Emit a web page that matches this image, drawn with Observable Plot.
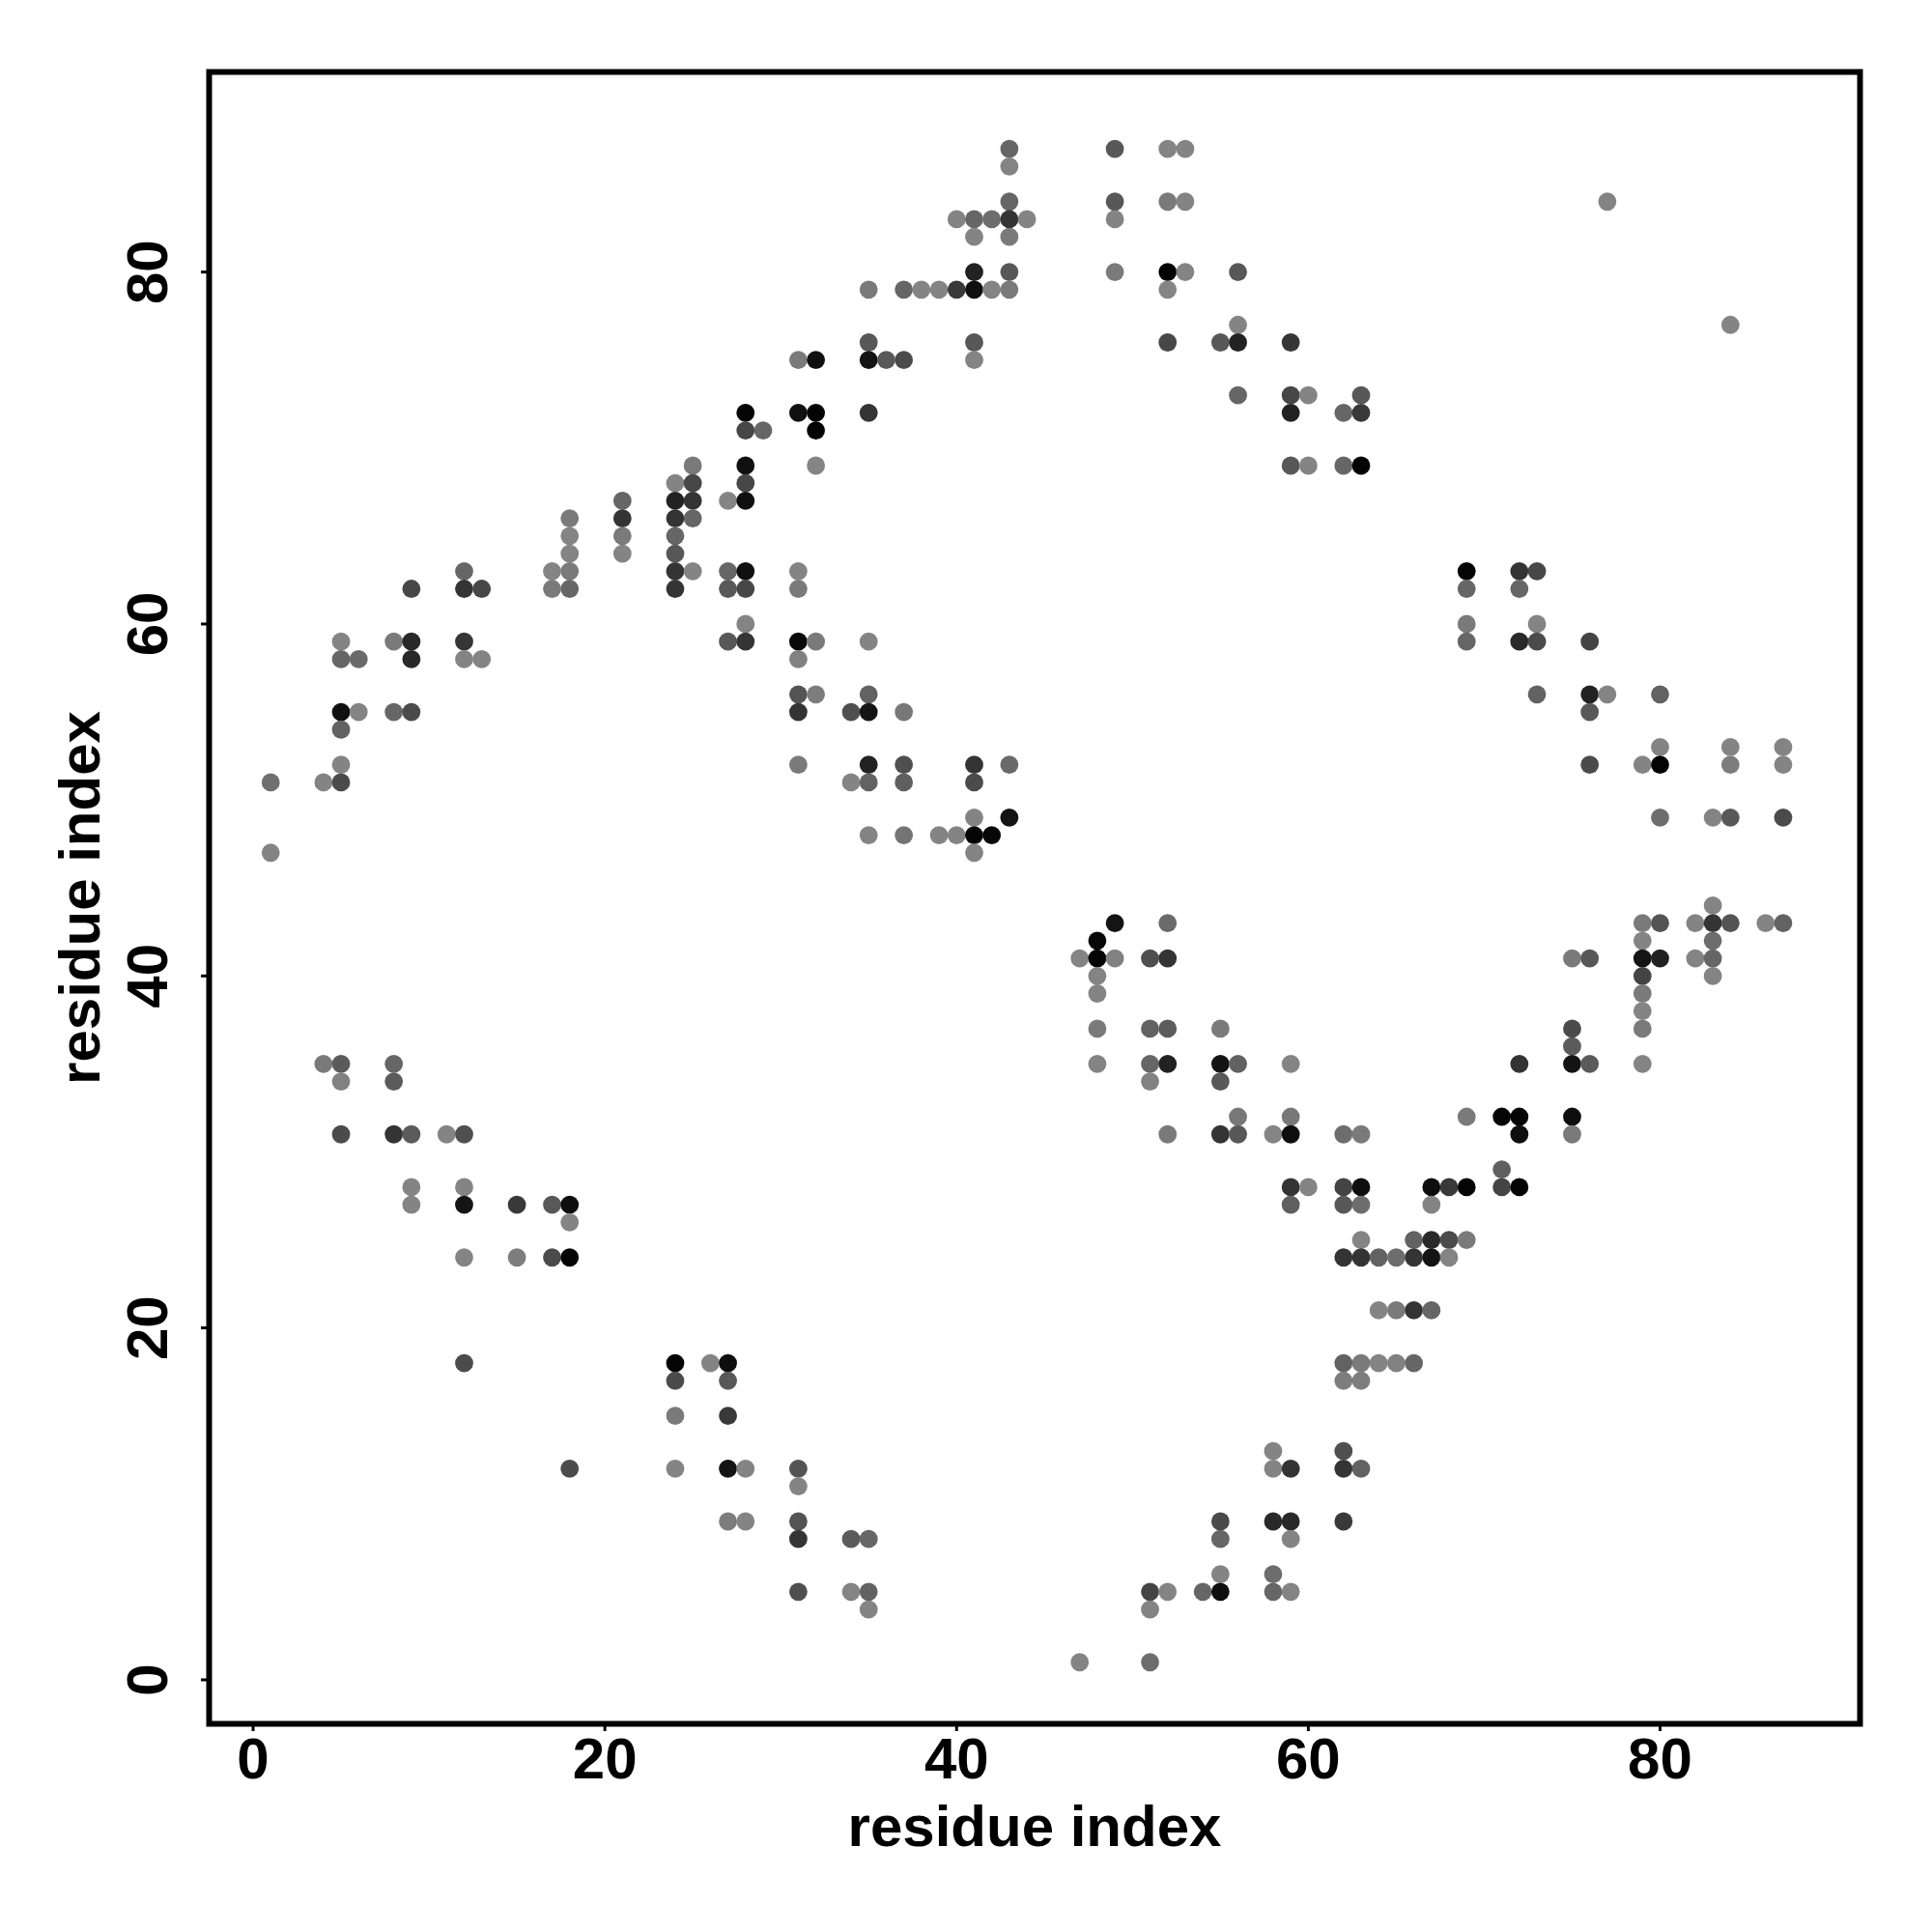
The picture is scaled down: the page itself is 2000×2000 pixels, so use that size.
<!DOCTYPE html>
<html>
<head>
<meta charset="utf-8">
<script src="https://cdn.jsdelivr.net/npm/d3@7"></script>
<script src="https://cdn.jsdelivr.net/npm/@observablehq/plot@0.6"></script>
<style>
  html, body { margin: 0; padding: 0; background: #ffffff; }
  #chart { width: 2000px; height: 2000px; }
</style>
</head>
<body>
<div id="chart"></div>
<script>
// Tick values on both axes
const xTicks = [0, 20, 40, 60, 80];
const yTicks = [0, 20, 40, 60, 80];
const axisTitle = "residue index";

// Contacts: [residue i, residue j, contact strength (0 = weak/light, 1 = strong/black)]
const contacts = [
  [28,72,.97],[28,71,.48],[29,71,.25],[25,69,.1],[28,69,.88],[24,68,.03],[25,68,.48],[28,68,.48],
  [21,67,.25],[24,67,.75],[25,67,.62],[27,67,.03],[28,67,.88],[18,66,.1],[21,66,.62],[24,66,.62],
  [25,66,.25],[18,65,.03],[21,65,.1],[24,65,.25],[18,64,.03],[21,64,.03],[24,64,.35],[12,63,.25],
  [17,63,.03],[18,63,.1],[24,63,.62],[25,63,.03],[27,63,.25],[28,63,.88],[9,62,.48],[12,62,.62],
  [13,62,.48],[17,62,.1],[18,62,.25],[24,62,.62],[27,62,.35],[28,62,.48],[28,60,.03],
  [43,87,.25],[43,86,.03],[49,87,.35],[52,87,.03],[53,87,.03],[43,84,.25],[49,84,.35],[52,84,.1],
  [53,84,.03],[40,83,.03],[41,83,.25],[42,83,.2],[43,83,.62],[44,83,.03],[49,83,.03],[41,82,.03],
  [43,82,.1],[41,80,.75],[43,80,.35],[49,80,.1],[52,80,.97],[53,80,.03],[56,80,.35],[35,79,.1],
  [37,79,.25],[38,79,.03],[39,79,.03],[40,79,.58],[41,79,.88],[42,79,.03],[43,79,.1],[52,79,.03],
  [56,77,.03],[35,76,.35],[41,76,.35],[52,76,.48],[55,76,.35],[56,76,.75],[59,76,.6],[31,75,.1],
  [32,75,.88],[35,75,.85],[36,75,.35],[37,75,.45],[41,75,.03],[56,73,.25],[59,73,.48],[60,73,.03],
  [31,72,.88],[32,72,.97],[35,72,.62],[59,72,.75],[32,71,.97],[32,69,.03],[59,69,.35],[60,69,.03],
  [31,63,.03],[31,62,.1],
  [77,84,.03],[84,77,.03],[63,73,.35],[62,72,.25],[63,72,.58],[62,69,.25],[63,69,.97],[69,63,.97],
  [72,63,.62],[73,63,.48],[69,62,.25],[72,62,.25],[69,60,.1],[73,60,.03],
  [5,59,.03],[8,59,.1],[9,59,.7],[12,59,.6],[27,59,.35],[28,59,.62],[5,58,.25],[6,58,.22],
  [9,58,.7],[12,58,.03],[13,58,.03],[5,55,.88],[6,55,.03],[8,55,.25],[9,55,.45],[5,54,.28],
  [5,52,.03],[1,51,.18],[4,51,.03],[5,51,.45],[1,47,.03],[4,35,.1],[5,35,.33],[8,35,.25],
  [5,34,.05],[8,34,.33],[5,31,.45],[8,31,.62],[9,31,.33],[11,31,.03],[12,31,.42],
  [31,59,.93],[32,59,.1],[35,59,.03],[31,58,.05],[31,56,.38],[32,56,.08],[35,56,.28],[31,55,.62],
  [34,55,.42],[35,55,.85],[37,55,.12],[31,52,.1],[35,52,.75],[37,52,.42],[41,52,.62],[43,52,.22],
  [34,51,.03],[35,51,.28],[37,51,.3],[41,51,.45],[41,49,.03],[43,49,.85],[35,48,.03],[37,48,.15],
  [39,48,.03],[40,48,.03],[41,48,.97],[42,48,.95],[41,47,.03],[49,43,.85],[52,43,.22],[48,42,.95],
  [47,41,.03],[48,41,.97],[49,41,.05],[51,41,.42],[52,41,.62],[48,40,.03],[48,39,.03],[48,37,.1],
  [51,37,.28],[52,37,.32],[55,37,.1],[48,35,.03],[51,35,.25],[52,35,.75],[55,35,.85],[56,35,.28],
  [59,35,.03],[51,34,.05],[55,34,.35],[56,32,.12],[59,32,.12],[52,31,.1],[55,31,.62],[56,31,.35],
  [58,31,.03],[59,31,.9],
  [69,59,.25],[72,59,.7],[73,59,.45],[76,59,.5],[73,56,.28],[76,56,.75],[77,56,.03],[80,56,.28],
  [76,55,.35],[80,53,.03],[84,53,.03],[87,53,.03],[76,52,.45],[79,52,.03],[80,52,.97],[84,52,.08],
  [87,52,.03],[80,49,.2],[83,49,.03],[84,49,.35],[87,49,.45],[83,44,.03],[79,43,.1],[80,43,.38],
  [82,43,.03],[83,43,.62],[84,43,.38],[86,43,.03],[87,43,.28],[79,42,.03],[83,42,.2],[75,41,.1],
  [76,41,.35],[79,41,.85],[80,41,.75],[82,41,.03],[83,41,.25],[79,40,.5],[83,40,.03],[79,39,.1],
  [79,38,.03],[75,37,.45],[79,37,.1],[75,36,.33],[72,35,.62],[75,35,.85],[76,35,.33],[79,35,.03],
  [69,32,.1],[71,32,.97],[72,32,.97],[75,32,.9],[62,31,.2],[63,31,.1],[72,31,.9],[75,31,.1],
  [71,29,.3],
  [9,28,.03],[12,28,.03],[9,27,.03],[12,27,.85],[15,27,.58],[17,27,.35],[18,27,.9],[18,26,.03],
  [12,24,.03],[15,24,.08],[17,24,.45],[18,24,.97],[12,18,.45],[24,18,.97],[26,18,.03],[27,18,.9],
  [24,17,.45],[27,17,.35],[24,15,.1],[27,15,.58],[18,12,.45],[24,12,.03],[27,12,.85],[28,12,.03],
  [27,9,.08],[28,9,.03],
  [59,28,.62],[60,28,.03],[59,27,.3],[31,12,.38],[58,13,.03],[58,12,.03],[59,12,.62],[31,11,.03],
  [31,9,.38],[55,9,.45],[58,9,.7],[59,9,.7],[31,8,.62],[34,8,.33],[35,8,.25],[55,8,.25],
  [59,8,.03],[55,6,.03],[58,6,.2],[31,5,.42],[34,5,.03],[35,5,.28],[51,5,.5],[52,5,.03],
  [54,5,.25],[55,5,.9],[58,5,.25],[59,5,.03],[35,4,.03],[51,4,.03],[47,1,.03],[51,1,.2],
  [62,28,.5],[63,28,.9],[67,28,.9],[68,28,.58],[69,28,.97],[71,28,.5],[72,28,.97],[62,27,.35],
  [63,27,.2],[67,27,.03],[63,25,.03],[66,25,.28],[67,25,.7],[68,25,.45],[69,25,.1],[62,24,.62],
  [63,24,.62],[64,24,.28],[65,24,.2],[66,24,.62],[67,24,.85],[68,24,.03],[64,21,.03],[65,21,.1],
  [66,21,.62],[67,21,.25],[62,18,.28],[63,18,.1],[64,18,.03],[65,18,.05],[66,18,.25],[62,17,.08],
  [63,17,.08],[62,13,.42],[62,12,.62],[63,12,.28],[62,9,.58]
];

const font = "'Liberation Sans', Arial, Helvetica, sans-serif";

const chart = Plot.plot({
  width: 2000,
  height: 2000,
  marginLeft: 216,
  marginRight: 75,
  marginTop: 74,
  marginBottom: 216,
  x: {domain: [-2.5, 91.37]},
  y: {domain: [-2.5, 91.37]},
  color: {type: "linear", domain: [0, 1], range: ["#888888", "#000000"], interpolate: "rgb"},
  style: {fontFamily: font, fontSize: "60px", fontWeight: "bold", color: "black", background: "white"},
  marks: [
    Plot.dot(contacts, {x: d => d[0], y: d => d[1], fill: d => d[2], r: 9.4}),
    Plot.frame({stroke: "black", strokeWidth: 6}),
    Plot.axisX(xTicks, {
      tickSize: 8, tickPadding: 6, strokeWidth: 3,
      fontSize: 60, fontWeight: "bold",
      label: axisTitle, labelAnchor: "center", labelOffset: 126, labelArrow: "none"
    }),
    Plot.axisY(yTicks, {
      tickSize: 8, tickPadding: 36, tickRotate: -90, strokeWidth: 3,
      fontSize: 60, fontWeight: "bold",
      label: axisTitle, labelAnchor: "center", labelOffset: 156.5, labelArrow: "none"
    })
  ]
});

document.getElementById("chart").appendChild(chart);
</script>
</body>
</html>
